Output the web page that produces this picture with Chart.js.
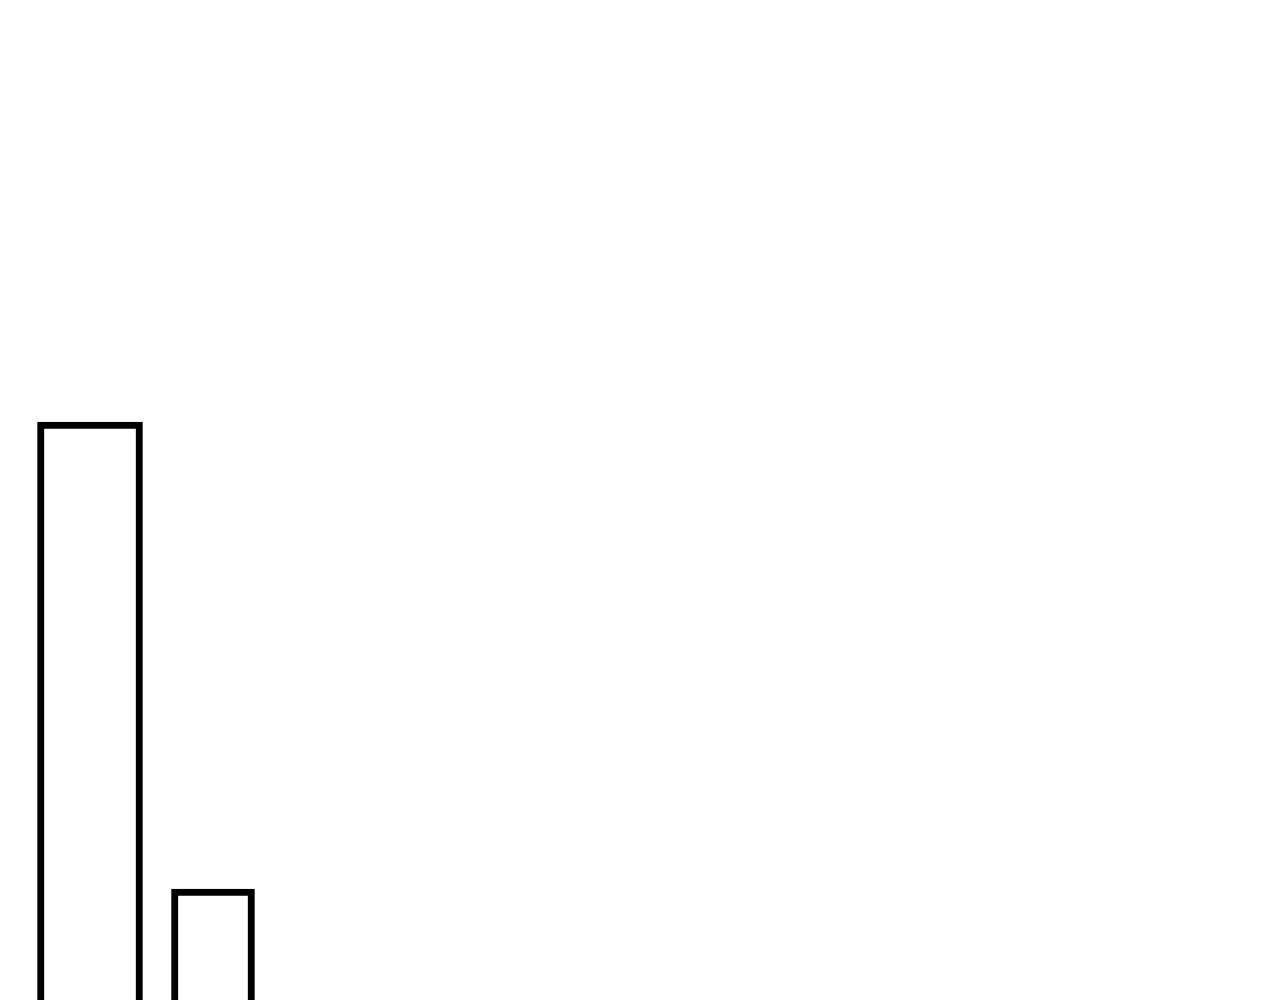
<!DOCTYPE html>
<html>
<head>
<meta charset="utf-8">
<script src="https://cdn.jsdelivr.net/npm/chart.js@4/dist/chart.umd.min.js"></script>
<style>
  html, body { margin: 0; padding: 0; background: #fff; }
  canvas { display: block; }
</style>
</head>
<body>
<canvas id="barChart" width="1280" height="1000"></canvas>
<script>
// Données
const binCenters = [90, 213];
const binValues = [57.8, 11.1];

const barWidths = [105, 83];

const ctx = document.getElementById('barChart');
new Chart(ctx, {
    type: 'bar',
    data: {
        datasets: binCenters.map((c, i) => ({
            data: [{ x: c, y: binValues[i] }],
            backgroundColor: '#ffffff',
            borderColor: '#000000',
            borderWidth: 7,
            barThickness: barWidths[i],
            grouped: false
        }))
    },
    options: {
        responsive: false,
        animation: false,
        devicePixelRatio: 1,
        layout: { padding: 0 },
        plugins: {
            legend: { display: false },
            tooltip: { enabled: false }
        },
        scales: {
            x: { type: 'linear', min: 0, max: 1280, offset: false, display: false },
            y: { min: 0, max: 100, display: false }
        }
    }
});
</script>
</body>
</html>
